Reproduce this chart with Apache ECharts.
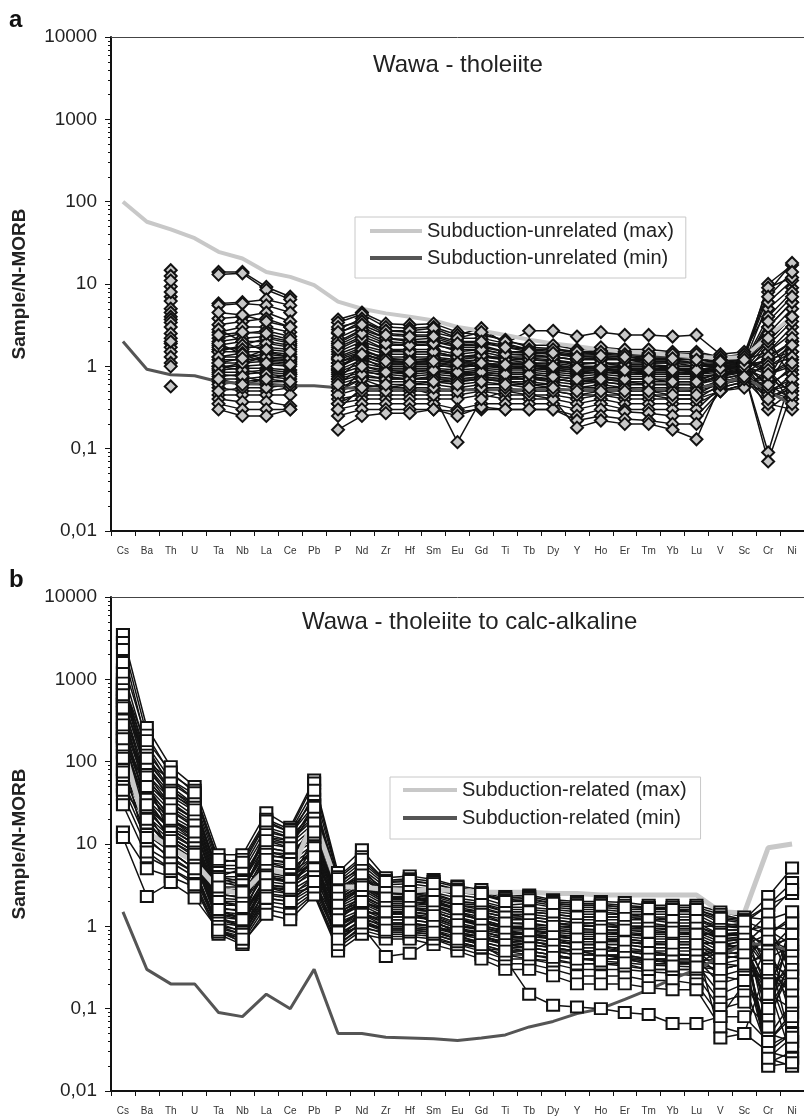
<!DOCTYPE html>
<html>
<head>
<meta charset="utf-8">
<script src="https://cdn.jsdelivr.net/npm/echarts@6/dist/echarts.min.js"></script>
<style>
  html, body { margin: 0; padding: 0; background: #fff; }
  #chart { width: 804px; height: 1116px; }
</style>
</head>
<body>
<div id="chart"></div>
<script>
// N-MORB normalised multi-element diagrams (spider diagrams), Wawa greenstone belt
const elements = ['Cs','Ba','Th','U','Ta','Nb','La','Ce','Pb','P','Nd','Zr','Hf','Sm','Eu','Gd','Ti','Tb','Dy','Y','Ho','Er','Tm','Yb','Lu','V','Sc','Cr','Ni'];

const yMajorTicks = [0.01, 0.1, 1, 10, 100, 1000, 10000];
const yMinorSteps = [2, 3, 4, 5, 6, 7, 8, 9];

// Reference envelopes
const unrelatedMax = [100,57,46,36,24.6,20.4,14,12.2,9.7,6.1,5.0,4.4,4.0,3.6,3.0,2.7,2.4,2.1,1.9,1.75,1.6,1.5,1.44,1.38,1.32,1.26,1.3,2.3,4.0];
const unrelatedMin = [2.0,0.92,0.79,0.77,0.65,0.62,0.61,0.58,0.58,0.55,0.54,0.52,0.52,0.52,0.52,0.52,0.52,0.52,0.52,0.52,0.52,0.52,0.52,0.52,0.54,0.62,0.74,0.5,0.34];
const relatedMax = [150,14,9,6,2.8,2.5,5,4.3,20,3,3,2.8,2.7,2.8,2.7,2.6,2.6,2.6,2.5,2.5,2.4,2.4,2.4,2.4,2.4,1.5,1.45,9,10];
const relatedMin = [1.5,0.3,0.2,0.2,0.09,0.08,0.15,0.1,0.3,0.05,0.05,0.045,0.044,0.043,0.041,0.044,0.048,0.06,0.07,0.087,0.1,0.13,0.17,0.23,0.3,0.43,0.62,0.6,0.5];

// Panel a: tholeiitic samples (Cs, Ba, U, Pb not analysed)
const tholeiiteSamples = [
  [null,null,14.7,null,14,14,9.2,7,null,3.7,4.5,3.3,3.2,3.3,2.6,2.4,2.1,1.7,1.65,1.5,1.55,1.5,1.45,1.45,1.4,1.3,1.2,10,17],
  [null,null,12.5,null,13,13.5,8.5,6.5,null,3.4,4.3,3.0,2.9,3.0,2.4,2.9,1.9,1.6,1.6,1.45,1.5,1.45,1.4,1.4,1.35,1.2,1.3,8,18],
  [null,null,9.3,null,5.8,6,6.5,5.5,null,2.8,3.8,2.7,2.6,2.6,2.2,2.2,1.9,2.7,2.7,2.3,2.6,2.4,2.4,2.3,2.4,1.4,1.5,5,9],
  [null,null,7,null,5.5,5.8,5.5,4.5,null,2.5,3.5,2.5,2.4,2.4,2.0,2.0,1.8,1.6,1.5,1.4,1.45,1.4,1.35,1.35,1.3,1.2,1.2,3,6],
  [null,null,6.2,null,3.8,4,4.5,3.5,null,2.2,3,2.2,2.1,2.2,1.8,1.8,1.5,1.5,1.45,1.35,1.4,1.35,1.3,1.3,1.3,1.1,1.1,2,4],
  [null,null,5,null,3.2,3.5,3.8,3,null,1.9,2.7,2.0,1.9,2.0,1.7,1.7,1.5,1.45,1.4,1.3,1.3,1.3,1.2,1.2,1.2,1.1,1.2,1.5,3],
  [null,null,4.5,null,2.6,3,3,2.6,null,1.7,2.3,1.8,1.8,1.8,1.6,1.6,1.4,1.4,1.3,1.2,1.3,1.2,1.2,1.2,1.1,1.0,1.1,6,11],
  [null,null,4,null,2.2,2.5,2.7,2.3,null,1.5,2.0,1.6,1.6,1.6,1.4,1.5,1.3,1.3,1.3,1.2,1.2,1.2,1.1,1.1,1.1,1.0,1.0,1.2,2],
  [null,null,3.7,null,2.0,2.2,2.3,2.0,null,1.4,1.8,1.5,1.5,1.5,1.3,1.4,1.2,1.25,1.2,1.1,1.1,1.1,1.1,1.1,1.0,1.1,1.1,1.0,1.5],
  [null,null,3.4,null,1.8,2.0,2.0,1.8,null,1.3,1.7,1.4,1.4,1.4,1.3,1.3,1.3,1.2,1.15,1.05,1.1,1.0,1.0,1.0,1.0,1.0,1.0,2.5,5],
  [null,null,3,null,1.6,1.7,1.7,1.6,null,1.2,1.5,1.3,1.3,1.3,1.2,1.3,1.2,1.1,1.1,1.0,1.0,1.0,1.0,0.95,0.95,0.9,1.0,0.8,1.2],
  [null,null,2.5,null,1.5,1.5,1.5,1.4,null,1.1,1.4,1.2,1.2,1.2,1.1,1.2,1.1,1.05,1.0,0.95,1.0,0.95,0.95,0.9,0.9,1.0,1.1,4,8],
  [null,null,2.2,null,1.3,1.3,1.4,1.3,null,1.0,1.3,1.1,1.1,1.1,1.0,1.1,1.0,1.0,0.95,0.9,0.9,0.9,0.9,0.9,0.85,0.9,1.0,0.6,0.9],
  [null,null,1.9,null,1.2,1.2,1.25,1.2,null,0.9,1.2,1.0,1.0,1.0,1.0,1.0,1.0,0.95,0.9,0.85,0.9,0.85,0.85,0.85,0.8,0.9,0.95,1.5,2.5],
  [null,null,1.7,null,1.1,1.1,1.15,1.1,null,0.85,1.1,0.95,0.95,0.95,0.9,0.95,0.9,0.9,0.85,0.8,0.85,0.8,0.8,0.8,0.8,0.85,0.9,0.4,0.6],
  [null,null,1.5,null,1.0,1.0,1.05,1.0,null,0.8,1.0,0.9,0.9,0.9,0.85,0.9,0.85,0.85,0.8,0.75,0.8,0.75,0.75,0.75,0.75,0.8,0.9,0.3,0.5],
  [null,null,0.57,null,0.9,0.95,0.95,0.9,null,0.75,0.9,0.85,0.8,0.85,0.8,0.85,0.8,0.8,0.75,0.7,0.75,0.7,0.7,0.7,0.7,0.8,0.85,0.09,0.8],
  [null,null,1.3,null,0.85,0.85,0.9,0.85,null,0.7,0.85,0.8,0.75,0.8,0.75,0.8,0.75,0.75,0.7,0.65,0.7,0.65,0.65,0.65,0.65,0.75,0.85,0.07,0.5],
  [null,null,1.1,null,0.75,0.8,0.85,0.8,null,0.6,0.75,0.7,0.7,0.7,0.7,0.75,0.7,0.7,0.65,0.6,0.65,0.6,0.6,0.6,0.6,0.7,0.8,1.8,3.5],
  [null,null,1.0,null,0.7,0.7,0.75,0.7,null,0.55,0.7,0.65,0.65,0.65,0.65,0.7,0.65,0.65,0.6,0.55,0.6,0.55,0.55,0.55,0.55,0.65,0.75,0.5,0.4],
  [null,null,null,null,0.65,0.6,0.6,0.55,null,0.5,0.6,0.55,0.6,0.6,0.55,0.6,0.6,0.6,0.55,0.5,0.55,0.5,0.5,0.5,0.5,0.6,0.7,0.35,0.3],
  [null,null,null,null,0.55,0.5,0.5,0.55,null,0.45,0.55,0.5,0.5,0.5,0.5,0.55,0.5,0.5,0.5,0.45,0.5,0.45,0.45,0.45,0.45,0.55,0.65,1.2,1.5],
  [null,null,null,null,0.45,0.45,0.45,0.45,null,0.4,0.45,0.45,0.45,0.45,0.45,0.5,0.45,0.45,0.45,0.4,0.45,0.4,0.4,0.4,0.4,0.5,0.6,0.8,1.0],
  [null,null,null,null,0.4,0.37,0.37,0.33,null,0.35,0.4,0.4,0.4,0.4,0.4,0.45,0.4,0.4,0.4,0.35,0.4,0.35,0.35,0.35,0.35,0.5,0.6,0.5,0.6],
  [null,null,null,null,0.35,0.3,0.3,0.3,null,0.3,0.35,0.35,0.35,0.35,0.3,0.35,0.35,0.35,0.35,0.3,0.35,0.3,0.3,0.3,0.3,0.55,0.65,0.7,0.5],
  [null,null,null,null,0.3,0.25,0.25,0.3,null,0.25,0.3,0.3,0.3,0.3,0.28,0.3,0.3,0.3,0.3,0.25,0.3,0.28,0.27,0.25,0.25,0.5,0.6,0.6,0.4],
  [null,null,null,null,null,null,null,null,null,0.17,0.25,0.27,0.27,0.3,0.25,0.32,0.3,0.3,0.3,0.22,0.25,0.23,0.22,0.2,0.2,0.5,0.55,0.9,0.35],
  [null,null,null,null,null,null,null,null,null,0.5,0.7,0.55,0.55,0.45,0.12,0.4,0.5,0.45,0.4,0.18,0.22,0.2,0.2,0.17,0.13,0.6,0.8,1.3,2],
  [null,null,11,null,null,null,null,null,null,3.0,3.5,2.7,2.7,2.9,2.2,2.6,2.0,1.8,1.8,1.6,1.7,1.6,1.6,1.5,1.5,1.3,1.4,9,12],
  [null,null,8,null,4.5,4.2,3.5,3.0,null,2.0,2.8,2.2,2.0,2.0,1.8,1.9,1.7,1.6,1.6,1.5,1.5,1.4,1.4,1.4,1.4,1.2,1.3,7,14],
  [null,null,null,null,2.8,2.0,1.5,1.3,null,0.9,1.6,1.2,1.1,1.2,1.1,1.1,1.0,1.0,1.0,0.95,0.95,0.9,0.9,0.9,0.9,0.9,1.0,3,6],
  [null,null,null,null,1.5,1.8,2.2,1.9,null,0.7,1.3,0.9,0.85,0.9,0.8,0.8,0.75,0.7,0.7,0.65,0.65,0.6,0.6,0.6,0.6,0.8,0.9,0.5,0.7],
  [null,null,null,null,0.6,0.65,0.7,0.8,null,0.45,0.9,0.75,0.7,0.75,0.7,0.7,0.7,0.7,0.7,0.65,0.7,0.65,0.6,0.6,0.6,0.75,0.9,2,4],
  [null,null,null,null,1.0,0.9,0.8,0.75,null,1.1,1.5,1.1,1.1,1.1,1.05,1.0,0.95,0.95,0.9,0.85,0.85,0.85,0.8,0.8,0.8,0.95,1.05,0.45,0.8],
  [null,null,2.0,null,1.7,1.6,1.9,1.7,null,1.25,1.6,1.25,1.2,1.25,1.15,1.2,1.1,1.1,1.05,0.95,1.0,0.95,0.95,0.95,0.9,1.0,1.1,1.1,1.8],
  [null,null,null,null,1.3,1.45,1.2,1.15,null,0.95,1.35,1.05,1.05,1.05,0.95,1.05,1.0,0.95,0.95,0.9,0.9,0.9,0.85,0.85,0.85,0.95,1.0,2.2,0.7],
  [null,null,null,null,0.95,1.1,1.3,1.25,null,1.6,2.2,1.6,1.5,1.5,1.3,1.35,1.2,1.2,1.15,1.1,1.1,1.05,1.05,1.0,1.0,1.05,1.15,0.55,1.0],
  [null,null,null,null,0.8,0.75,0.65,0.65,null,0.65,0.8,0.7,0.7,0.7,0.65,0.7,0.65,0.6,0.6,0.55,0.55,0.55,0.5,0.5,0.5,0.7,0.8,1.0,1.3],
  [null,null,null,null,1.9,1.4,1.1,1.05,null,0.6,1.0,0.85,0.85,0.9,0.85,0.85,0.8,0.8,0.75,0.7,0.7,0.7,0.7,0.65,0.65,0.85,0.95,0.7,2.2],
  [null,null,null,null,2.4,2.6,2.5,2.1,null,1.8,2.5,1.9,1.8,1.9,1.5,1.6,1.4,1.35,1.3,1.2,1.25,1.2,1.15,1.15,1.1,1.1,1.15,0.9,0.45],
  [null,null,null,null,0.5,0.55,0.55,0.6,null,0.35,0.5,0.5,0.55,0.55,0.5,0.55,0.55,0.5,0.5,0.45,0.45,0.45,0.45,0.4,0.4,0.6,0.7,0.6,1.8],
  [null,null,null,null,1.1,1.25,1.6,1.5,null,1.0,1.4,1.15,1.15,1.15,1.1,1.1,1.05,1.05,1.0,0.95,0.95,0.9,0.9,0.9,0.9,0.95,1.05,3.5,7],
  [null,null,null,null,null,null,null,null,null,2.6,3.2,2.4,2.3,2.3,1.9,2.0,1.7,1.5,1.45,1.3,1.35,1.3,1.25,1.25,1.2,1.15,1.2,0.8,1.1],
  [null,null,null,null,0.7,0.6,0.7,0.65,null,0.3,0.55,0.6,0.6,0.65,0.6,0.65,0.6,0.55,0.55,0.5,0.5,0.5,0.5,0.45,0.45,0.65,0.75,0.4,0.55]
];

// Panel b: tholeiitic to calc-alkaline samples
const calcAlkalineSamples = [
  [3500,260,87,50,7.4,7.4,24,16,60,4.5,8.5,3.9,4.1,3.7,3.1,2.8,2.3,2.4,2.1,2.0,2.0,1.95,1.8,1.8,1.8,1.5,1.3,1.2,1.5],
  [2800,210,70,45,6,6.5,20,15,55,4,7,3.6,3.8,3.5,3.0,2.6,2.2,2.3,2.0,1.9,1.9,1.8,1.7,1.7,1.7,1.4,1.2,2.3,5.1],
  [2300,160,60,40,5.5,5.5,18,14,35,3.5,6,3.4,3.5,3.3,2.8,2.5,2.1,2.2,1.9,1.8,1.8,1.7,1.7,1.6,1.6,1.3,1.2,1.8,3.4],
  [1300,130,55,35,5,5,16,13,30,3.2,5.5,3.2,3.3,3.0,2.6,2.4,2.0,2.0,1.8,1.7,1.7,1.6,1.6,1.6,1.5,1.2,1.1,0.3,0.2],
  [1000,100,45,30,4.5,4.5,14,12,25,3,5,3,3.0,2.8,2.4,2.2,1.8,1.9,1.7,1.6,1.6,1.5,1.5,1.5,1.5,1.1,1.0,0.05,0.04],
  [850,90,40,28,4,4,12,11,20,2.8,4.5,2.8,2.8,2.6,2.2,2.0,1.7,1.7,1.6,1.5,1.5,1.4,1.4,1.4,1.4,1.0,1.0,0.8,1.2],
  [700,80,38,25,3.5,3.8,11,10,18,2.6,4,2.6,2.6,2.4,2.0,1.9,1.6,1.6,1.5,1.4,1.4,1.4,1.3,1.3,1.3,0.9,0.9,0.15,0.1],
  [600,70,35,22,3.2,3.5,10,9,16,2.5,3.8,2.5,2.5,2.3,1.9,1.8,1.5,1.5,1.4,1.3,1.3,1.3,1.3,1.2,1.2,0.9,0.9,1.0,0.9],
  [500,60,30,20,3,3,9,8,14,2.3,3.5,2.3,2.3,2.1,1.8,1.6,1.4,1.4,1.3,1.2,1.2,1.2,1.2,1.1,1.1,0.8,0.85,0.022,0.03],
  [420,55,28,18,2.8,2.8,8,7.5,12,2.1,3.2,2.1,2.1,2.0,1.7,1.5,1.3,1.3,1.2,1.1,1.1,1.1,1.1,1.0,1.0,0.8,0.8,0.4,0.6],
  [350,50,25,16,2.6,2.5,7,7,11,2,3,2.0,2.0,1.9,1.6,1.4,1.2,1.2,1.1,1.0,1.0,1.0,1.0,1.0,1.0,0.75,0.8,0.6,0.45],
  [300,45,22,15,2.4,2.3,6.5,6,10,1.9,2.8,1.9,1.9,1.8,1.5,1.3,1.1,1.1,1.0,1.0,1.0,0.95,0.95,0.9,0.9,0.7,0.75,0.08,0.3],
  [250,40,20,13,2.2,2.1,6,5.5,9,1.8,2.6,1.8,1.8,1.7,1.4,1.2,1.0,1.0,0.95,0.9,0.9,0.9,0.9,0.85,0.85,0.65,0.7,0.3,0.15],
  [200,35,18,12,2,2,5.5,5,8,1.7,2.4,1.7,1.7,1.6,1.3,1.1,0.95,0.95,0.9,0.85,0.85,0.85,0.8,0.8,0.8,0.6,0.65,0.2,0.025],
  [180,30,16,11,1.8,1.8,5,4.5,7,1.6,2.2,1.6,1.6,1.5,1.2,1.0,0.9,0.9,0.85,0.8,0.8,0.8,0.75,0.75,0.75,0.55,0.6,0.5,1.0],
  [150,28,15,10,1.6,1.6,4.5,4,6,1.5,2.0,1.5,1.5,1.4,1.1,0.95,0.85,0.85,0.8,0.75,0.75,0.75,0.7,0.7,0.7,0.5,0.55,0.035,0.05],
  [130,25,13,9,1.5,1.4,4,3.5,5.5,1.4,1.9,1.4,1.4,1.3,1.0,0.9,0.8,0.8,0.75,0.7,0.7,0.7,0.65,0.65,0.65,0.45,0.5,0.7,0.07],
  [120,22,12,8,1.4,1.3,3.5,3.2,5,1.3,1.8,1.3,1.3,1.2,0.95,0.85,0.75,0.75,0.7,0.65,0.65,0.65,0.6,0.6,0.6,0.4,0.45,0.12,0.35],
  [100,20,11,7,1.3,1.2,3.2,3,4.5,1.2,1.6,1.2,1.2,1.1,0.9,0.8,0.7,0.7,0.65,0.6,0.6,0.6,0.55,0.55,0.55,0.35,0.4,0.025,0.02],
  [80,18,10,6.5,1.2,1.1,3,2.7,4,1.1,1.5,1.1,1.1,1.0,0.85,0.75,0.65,0.65,0.6,0.55,0.55,0.55,0.5,0.5,0.5,0.3,0.35,0.9,0.2],
  [70,15,9,6,1.1,1.0,2.7,2.5,3.5,1.0,1.4,1.0,1.0,0.95,0.8,0.7,0.6,0.6,0.55,0.5,0.5,0.5,0.45,0.45,0.45,0.25,0.3,0.045,0.12],
  [60,13,8,5,1.0,0.9,2.4,2.2,3.2,0.9,1.3,0.95,0.95,0.9,0.75,0.65,0.55,0.55,0.5,0.45,0.45,0.45,0.4,0.4,0.4,0.2,0.25,0.25,0.04],
  [50,11,7,4.5,0.95,0.8,2.2,2,3,0.8,1.2,0.9,0.9,0.85,0.7,0.6,0.5,0.5,0.45,0.4,0.4,0.4,0.35,0.35,0.35,0.15,0.2,0.1,0.9],
  [40,9,6,4,0.9,0.7,2,1.8,2.8,0.7,1.1,0.85,0.85,0.8,0.65,0.55,0.45,0.45,0.4,0.35,0.35,0.35,0.3,0.3,0.3,0.12,0.15,0.6,0.7],
  [30,7,5,3.5,0.85,0.65,1.8,1.6,2.6,0.6,1.0,0.8,0.8,0.75,0.6,0.5,0.4,0.4,0.35,0.3,0.3,0.3,0.28,0.27,0.25,0.1,0.12,0.06,0.5],
  [14,5,4,3,0.8,0.6,1.6,1.4,2.5,0.55,0.9,0.75,0.75,0.7,0.55,0.45,0.35,0.35,0.3,0.25,0.25,0.25,0.22,0.22,0.2,0.08,0.08,0.04,0.09],
  [12,2.3,3.4,2.2,0.9,0.63,1.4,1.2,2.4,0.5,0.8,0.7,0.7,0.6,0.5,0.4,0.3,0.3,0.25,0.2,0.2,0.2,0.18,0.17,0.17,0.06,0.05,0.03,0.025],
  [250,30,15,10,1.5,1.3,4,3.5,6,0.8,1.0,0.43,0.47,0.7,0.6,0.55,0.5,0.5,0.45,0.4,0.4,0.4,0.35,0.35,0.35,0.3,0.35,0.2,0.3],
  [400,40,20,12,2,1.8,6,5,8,1.5,2,1.5,1.4,1.2,0.8,0.6,0.4,0.15,0.11,0.105,0.1,0.09,0.085,0.066,0.066,0.08,0.2,0.03,0.05],
  [600,70,30,20,2.5,2.2,8,7,15,2,3,2,2,1.8,1.4,1.2,1.0,0.9,0.8,0.7,0.7,0.65,0.6,0.6,0.6,0.044,0.05,0.35,0.25],
  [900,150,50,30,4,3.5,12,10,30,3,4,2.5,2.4,2.2,1.5,1.2,0.9,0.8,0.7,0.6,0.6,0.5,0.5,0.45,0.45,0.5,0.6,0.15,0.4],
  [500,100,60,35,3.5,3,15,12,40,2.5,3.5,2.2,2.2,1.9,1.3,1.0,0.8,0.7,0.55,0.5,0.45,0.4,0.4,0.35,0.35,0.5,0.6,0.8,1.3],
  [200,25,8,5,4,5,3,2.5,3,3.5,5,2.5,2.6,2.2,1.8,1.7,1.4,1.3,1.2,1.1,1.1,1.0,1.0,1.0,1.0,1.0,1.1,1.8,2.5],
  [1200,60,12,8,1.2,1.0,4,3.5,12,1.0,1.5,1.4,1.5,1.1,0.9,0.8,0.6,0.55,0.5,0.5,0.45,0.45,0.4,0.4,0.4,0.55,0.7,0.02,0.022],
  [900,120,45,28,3.8,3.2,13,11,22,2.7,4.2,2.7,2.7,2.5,2.0,1.9,1.5,1.5,1.4,1.3,1.3,1.3,1.2,1.2,1.2,1.0,0.95,0.5,0.8],
  [750,95,32,20,2.6,2.7,9,8,13,2.2,3.2,2.2,2.2,2.0,1.6,1.5,1.3,1.2,1.1,1.05,1.0,1.0,0.95,0.95,0.95,0.7,0.7,0.1,0.3],
  [550,45,18,11,1.7,1.5,5,4.5,9,1.3,2.0,1.6,1.6,1.5,1.2,1.1,1.0,0.95,0.9,0.85,0.85,0.8,0.8,0.8,0.8,0.85,0.75,1.4,2.8],
  [450,35,14,9,1.4,1.2,4.2,3.8,7,1.0,1.6,1.3,1.3,1.25,1.0,0.95,0.85,0.8,0.75,0.7,0.7,0.7,0.65,0.65,0.65,0.6,0.55,0.04,0.08],
  [320,28,12,8,1.3,1.0,3.8,3.4,6.5,0.9,1.4,1.2,1.2,1.1,0.9,0.85,0.75,0.7,0.65,0.6,0.6,0.6,0.55,0.55,0.55,0.5,0.45,0.7,0.5],
  [220,18,9,6,1.1,0.85,3.0,2.8,5,0.75,1.2,1.05,1.05,1.0,0.8,0.75,0.65,0.6,0.55,0.5,0.5,0.5,0.45,0.45,0.45,0.45,0.4,0.2,0.6],
  [160,12,6.5,4.5,0.9,0.75,2.5,2.3,4,0.65,1.1,0.95,0.95,0.9,0.7,0.65,0.55,0.5,0.45,0.4,0.4,0.4,0.38,0.37,0.36,0.35,0.33,0.5,0.035],
  [110,8,5,3.2,0.85,0.7,2.2,2.0,3.5,0.6,0.95,0.85,0.85,0.8,0.65,0.55,0.45,0.4,0.38,0.35,0.35,0.33,0.3,0.3,0.3,0.25,0.22,0.06,1.5],
  [1600,180,75,42,6.5,6,19,14,45,3.8,6.5,3.5,3.6,3.3,2.7,2.5,2.0,2.1,1.9,1.8,1.8,1.7,1.65,1.6,1.6,1.25,1.15,0.9,0.6],
  [650,110,42,26,3.0,2.6,11,9,28,1.8,3.0,2.2,2.3,2.0,1.6,1.4,1.1,1.05,1.0,0.95,0.9,0.9,0.85,0.85,0.8,0.8,0.85,0.3,0.12],
  [280,65,26,17,2.0,1.7,7.5,6.5,18,1.4,2.3,1.7,1.7,1.5,1.2,1.05,0.85,0.8,0.75,0.7,0.7,0.65,0.62,0.6,0.6,0.65,0.7,0.025,0.045],
  [190,50,20,14,1.6,1.2,6.5,5.8,14,1.2,2.0,1.5,1.5,1.35,1.05,0.9,0.7,0.65,0.6,0.55,0.55,0.5,0.48,0.46,0.45,0.55,0.6,1.1,0.25],
  [75,30,11,7.5,1.0,0.8,4,3.6,9,0.85,1.4,1.1,1.1,1.0,0.85,0.75,0.6,0.55,0.5,0.45,0.45,0.42,0.4,0.38,0.38,0.4,0.45,0.15,1.1],
  [45,20,8,5,0.9,0.7,3.2,2.9,7,0.7,1.1,0.9,0.9,0.85,0.7,0.6,0.5,0.45,0.42,0.4,0.38,0.36,0.34,0.33,0.32,0.3,0.35,0.45,0.2]
];

const FONT = '"Liberation Sans", Arial, Helvetica, sans-serif';
const INK = '#121212';

const yMinorTicks = [];
yMajorTicks.slice(0, -1).forEach(d => yMinorSteps.forEach(m => yMinorTicks.push(m * d)));

const grids = [
  { left: 111, top: 37, width: 699, height: 494 },
  { left: 111, top: 597, width: 699, height: 495 }
];

function xAxesFor(gi) {
  return [
    {
      gridIndex: gi, type: 'category', data: elements, position: 'bottom',
      boundaryGap: true,
      axisLine: { onZero: false, lineStyle: { color: INK, width: 2 } },
      axisTick: { show: true, length: 5, inside: false, lineStyle: { color: INK, width: 1 } },
      axisLabel: { interval: 0, fontSize: 10, color: '#333', fontFamily: FONT, margin: 15 },
      splitLine: { show: false }
    },
    {
      gridIndex: gi, type: 'category', data: elements, position: 'top',
      axisLine: { onZero: false, lineStyle: { color: '#444', width: 1 } },
      axisTick: { show: false }, axisLabel: { show: false }, splitLine: { show: false }
    }
  ];
}

function yAxesFor(gi) {
  return [
    {
      gridIndex: gi, type: 'log', logBase: 10, min: 0.01, max: 10000, position: 'left',
      name: 'Sample/N-MORB', nameLocation: 'middle', nameGap: 82, nameRotate: 90,
      nameTextStyle: { fontSize: 19, fontWeight: 'bold', color: '#222', fontFamily: FONT },
      axisLine: { show: true, onZero: false, lineStyle: { color: INK, width: 2 } },
      axisTick: { show: true, length: 6, inside: false, customValues: yMajorTicks, lineStyle: { color: INK, width: 1 } },
      axisLabel: {
        customValues: yMajorTicks, fontSize: 19, color: '#222', fontFamily: FONT, margin: 14,
        formatter: v => String(v).replace('.', ',')
      },
      splitLine: { show: false }
    },
    {
      gridIndex: gi, type: 'log', logBase: 10, min: 0.01, max: 10000, position: 'left',
      axisLine: { show: false },
      axisTick: { show: true, length: 3, inside: false, customValues: yMinorTicks, lineStyle: { color: INK, width: 1 } },
      axisLabel: { show: false },
      splitLine: { show: false }
    }
  ];
}

function panelSeries(gi, samples, marker, markerSize, markerFill, refMax, refMin, refNames, maxWidth) {
  const out = [];
  const ax = { xAxisIndex: gi * 2, yAxisIndex: gi * 2 };
  samples.forEach(row => {
    out.push(Object.assign({
      type: 'line', data: row, symbol: 'none', showSymbol: false, connectNulls: false,
      lineStyle: { color: INK, width: 1.5 }, z: 2, silent: true
    }, ax));
  });
  out.push(Object.assign({
    name: refNames[0], type: 'line', data: refMax, symbol: 'none', showSymbol: false,
    color: '#c8c8c8', lineStyle: { color: '#c8c8c8', width: maxWidth }, z: 3, silent: true
  }, ax));
  out.push(Object.assign({
    name: refNames[1], type: 'line', data: refMin, symbol: 'none', showSymbol: false,
    color: '#555555', lineStyle: { color: '#555555', width: 3 }, z: 3, silent: true
  }, ax));
  const pts = [];
  samples.forEach(row => row.forEach((v, i) => { if (v != null) pts.push([i, v]); }));
  out.push(Object.assign({
    type: 'scatter', data: pts, symbol: marker, symbolSize: markerSize,
    itemStyle: { color: markerFill, borderColor: INK, borderWidth: 2, opacity: 1 },
    z: 4, silent: true
  }, ax));
  return out;
}

const namesA = ['Subduction-unrelated (max)', 'Subduction-unrelated (min)'];
const namesB = ['Subduction-related (max)', 'Subduction-related (min)'];

function legendFor(names, left, top, padding, itemGap, itemWidth) {
  return {
    orient: 'vertical', left: left, top: top, padding: padding, itemGap: itemGap,
    itemWidth: itemWidth, itemHeight: 4, icon: 'rect', selectedMode: false,
    backgroundColor: '#fff', borderColor: '#c8c8c8', borderWidth: 1, borderRadius: 0,
    textStyle: { fontSize: 20, lineHeight: 20, color: '#222', fontFamily: FONT },
    data: [
      { name: names[0], itemStyle: { color: '#c8c8c8' } },
      { name: names[1], itemStyle: { color: '#555555' } }
    ]
  };
}

const titleStyle = { fontSize: 24, fontWeight: 'normal', color: '#222', fontFamily: FONT };
const panelLetterStyle = { fontSize: 24, fontWeight: 'bold', color: '#111', fontFamily: FONT };

const option = {
  animation: false,
  backgroundColor: '#fff',
  title: [
    { text: 'a', left: 9, top: 8, padding: 0, textStyle: panelLetterStyle },
    { text: 'Wawa - tholeiite', left: 373, top: 53, padding: 0, textStyle: titleStyle },
    { text: 'b', left: 9, top: 568, padding: 0, textStyle: panelLetterStyle },
    { text: 'Wawa - tholeiite to calc-alkaline', left: 302, top: 610, padding: 0, textStyle: titleStyle }
  ],
  legend: [
    legendFor(namesA, 355, 217, [4, 12, 10, 15], 7, 52),
    legendFor(namesB, 390, 777, [3, 14, 11, 13], 8, 54)
  ],
  grid: grids,
  xAxis: [...xAxesFor(0), ...xAxesFor(1)],
  yAxis: [...yAxesFor(0), ...yAxesFor(1)],
  series: [
    ...panelSeries(0, tholeiiteSamples, 'diamond', 12, '#c8c8c8', unrelatedMax, unrelatedMin, namesA, 4),
    ...panelSeries(1, calcAlkalineSamples, 'rect', [12, 11], '#ffffff', relatedMax, relatedMin, namesB, 5)
  ]
};

const chart = echarts.init(document.getElementById('chart'), null, { renderer: 'canvas' });
chart.setOption(option);
</script>
</body>
</html>
